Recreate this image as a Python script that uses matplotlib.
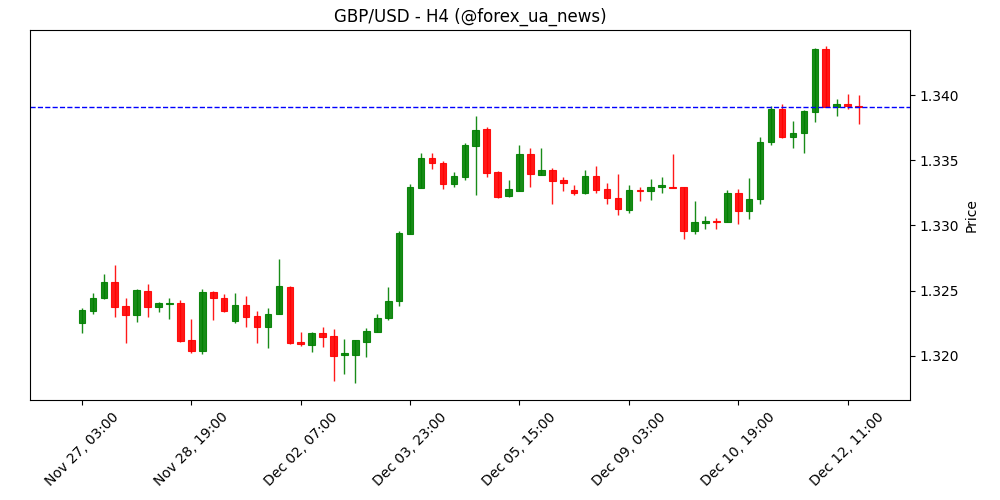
import matplotlib
matplotlib.use("Agg")
import matplotlib.pyplot as plt
import numpy as np

# ── 数据：GBP/USD H4 蜡烛 ──────────────────────────────
opens = [
    1.32256, 1.32348, 1.32441, 1.32567, 1.32385, 1.32310, 1.32500, 1.32372, 1.32400, 1.32408,
    1.32123, 1.32041, 1.32492, 1.32446, 1.32264, 1.32392, 1.32308, 1.32225, 1.32321, 1.32531,
    1.32108, 1.32087, 1.32177, 1.32154, 1.32008, 1.32010, 1.32110, 1.32187, 1.32287, 1.32418,
    1.32933, 1.33287, 1.33521, 1.33482, 1.33321, 1.33372, 1.33610, 1.33738, 1.33408, 1.33225,
    1.33264, 1.33546, 1.33387, 1.33423, 1.33346, 1.33275, 1.33248, 1.33377, 1.33277, 1.33213,
    1.33118, 1.33269, 1.33264, 1.33295, 1.33292, 1.33292, 1.32956, 1.33018, 1.33031, 1.33025,
    1.33252, 1.33115, 1.33205, 1.33644, 1.33892, 1.33679, 1.33710, 1.33872, 1.34354, 1.33905,
    1.33931, 1.33915,
]
closes = [
    1.32354, 1.32444, 1.32567, 1.32372, 1.32310, 1.32508, 1.32372, 1.32408, 1.32408, 1.32118,
    1.32041, 1.32492, 1.32441, 1.32341, 1.32392, 1.32295, 1.32225, 1.32323, 1.32538, 1.32102,
    1.32088, 1.32175, 1.32148, 1.32002, 1.32023, 1.32121, 1.32190, 1.32290, 1.32421, 1.32944,
    1.33298, 1.33521, 1.33479, 1.33321, 1.33382, 1.33615, 1.33736, 1.33405, 1.33218, 1.33277,
    1.33546, 1.33395, 1.33423, 1.33341, 1.33325, 1.33248, 1.33377, 1.33272, 1.33210, 1.33123,
    1.33269, 1.33264, 1.33292, 1.33308, 1.33287, 1.32956, 1.33023, 1.33031, 1.33025, 1.33252,
    1.33110, 1.33205, 1.33644, 1.33892, 1.33679, 1.33713, 1.33875, 1.34354, 1.33905, 1.33931,
    1.33918, 1.33905,
]
highs = [
    1.32367, 1.32482, 1.32628, 1.32700, 1.32444, 1.32515, 1.32554, 1.32413, 1.32444, 1.32425,
    1.32285, 1.32515, 1.32500, 1.32477, 1.32485, 1.32462, 1.32346, 1.32367, 1.32744, 1.32538,
    1.32182, 1.32182, 1.32221, 1.32205, 1.32128, 1.32121, 1.32213, 1.32321, 1.32528, 1.32954,
    1.33315, 1.33554, 1.33554, 1.33495, 1.33408, 1.33636, 1.33838, 1.33752, 1.33415, 1.33348,
    1.33615, 1.33598, 1.33598, 1.33444, 1.33375, 1.33310, 1.33425, 1.33459, 1.33328, 1.33392,
    1.33308, 1.33295, 1.33354, 1.33375, 1.33552, 1.33298, 1.33187, 1.33072, 1.33059, 1.33269,
    1.33277, 1.33367, 1.33675, 1.33918, 1.33928, 1.33798, 1.33885, 1.34362, 1.34379, 1.33969,
    1.34008, 1.34000,
]
lows = [
    1.32179, 1.32323, 1.32438, 1.32302, 1.32098, 1.32259, 1.32302, 1.32336, 1.32282, 1.32110,
    1.32021, 1.32013, 1.32277, 1.32333, 1.32256, 1.32221, 1.32102, 1.32059, 1.32321, 1.32090,
    1.32079, 1.32028, 1.32072, 1.31810, 1.31859, 1.31790, 1.31995, 1.32187, 1.32275, 1.32379,
    1.32933, 1.33287, 1.33431, 1.33277, 1.33298, 1.33348, 1.33231, 1.33375, 1.33210, 1.33218,
    1.33264, 1.33298, 1.33387, 1.33167, 1.33264, 1.33233, 1.33238, 1.33252, 1.33167, 1.33077,
    1.33098, 1.33187, 1.33195, 1.33248, 1.33287, 1.32895, 1.32931, 1.32975, 1.32975, 1.33025,
    1.33013, 1.33046, 1.33167, 1.33615, 1.33672, 1.33598, 1.33559, 1.33790, 1.33905, 1.33841,
    1.33892, 1.33782,
]
tick_pos = [0, 10, 20, 30, 40, 50, 60, 70]
tick_labels = [
    "Nov 27, 03:00", "Nov 28, 19:00", "Dec 02, 07:00", "Dec 03, 23:00",
    "Dec 05, 15:00", "Dec 09, 03:00", "Dec 10, 19:00", "Dec 12, 11:00",
]

o = np.array(opens)
c = np.array(closes)
h = np.array(highs)
l = np.array(lows)
x = np.arange(len(o))
up = c >= o
cols = np.where(up, "green", "red")

# ── 绘图 ────────────────────────────────────────────────
fig, ax = plt.subplots(figsize=(10, 5), dpi=100)
fig.subplots_adjust(left=0.03, right=0.91, top=0.94, bottom=0.20)

ax.vlines(x, l, h, colors=cols, linewidth=1, alpha=0.9)
body_h = np.maximum(np.abs(c - o), 0.00004)
ax.bar(x, body_h, bottom=np.minimum(o, c), width=0.6, color=cols,
       edgecolor=cols, linewidth=0.8, alpha=0.9)

ax.axhline(closes[-1], color="blue", linestyle="--", linewidth=1)

ax.set_xlim(-4.75, 75.7)
ax.set_ylim(1.31662, 1.34499)
ax.set_xticks(tick_pos)
ax.set_xticklabels(tick_labels, rotation=45)
ax.yaxis.tick_right()
ax.yaxis.set_label_position("right")
ax.yaxis.set_major_formatter(plt.FormatStrFormatter("%.3f"))
ax.set_ylabel("Price")
ax.set_title("GBP/USD - H4 (@forex_ua_news)")

fig.savefig("out.png", dpi=100)
